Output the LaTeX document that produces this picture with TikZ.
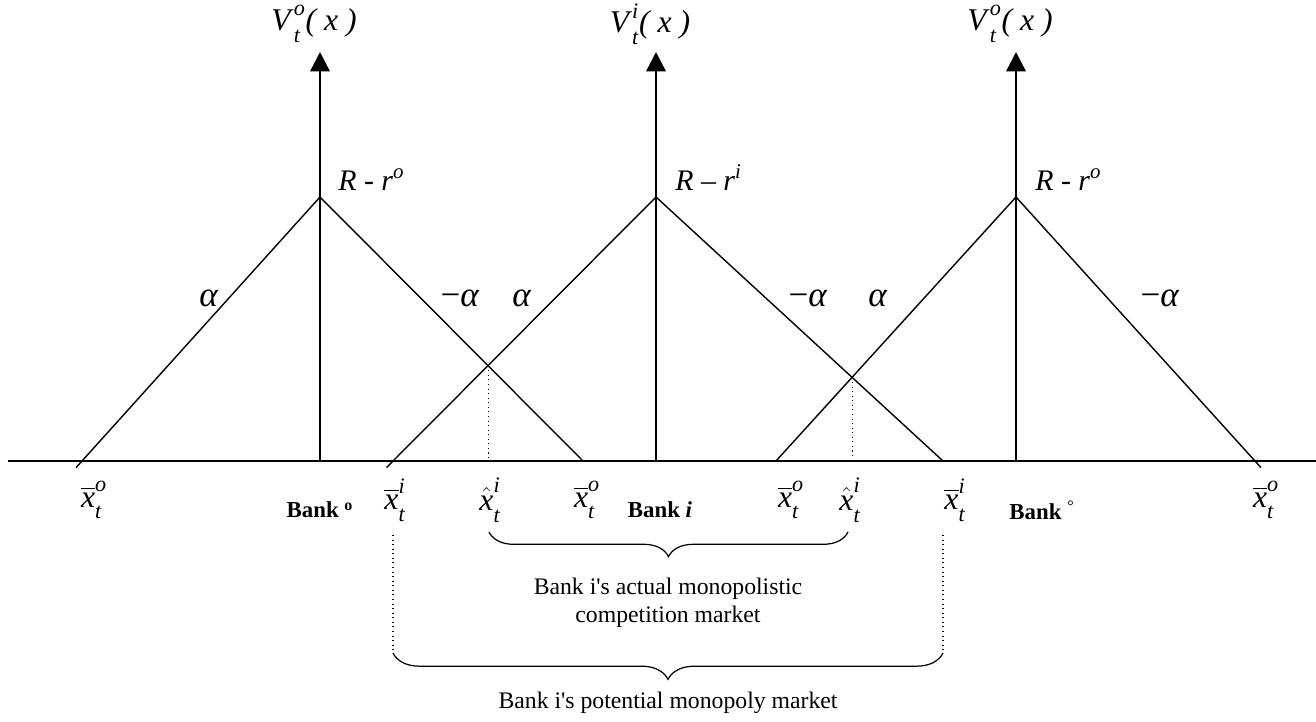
\documentclass[tikz,border=0pt]{standalone}
\usepackage{amsmath}
\usepackage[no-math]{fontspec}
\setmainfont{Liberation Serif}
\usetikzlibrary{arrows.meta, calc, decorations.pathreplacing}
\newcommand{\scr}[2]{^{\text{\raisebox{0.15em}{\itshape #2}}}_{\text{\raisebox{-0.2em}{\itshape #1}}}}
\newcommand{\xbar}[1]{$\overline{\textit{x}}\scr{t}{#1}$}
\newcommand{\xhat}[1]{$\hat{\textit{x}}\scr{t}{#1}$}
\newcommand{\vlab}[1]{\textit{V}$\scr{t}{#1}$\textit{( x )}}
\tikzset{
  lne/.style={line width=0.8pt},
  axisln/.style={line width=1pt},
  vax/.style={line width=1.4pt, -{Triangle[length=11pt, width=11pt]}},
  drop/.style={dotted, line width=0.6pt},
  brc/.style={decorate, decoration={brace, mirror, amplitude=14pt}, line width=0.7pt},
  vlb/.style={font=\fontsize{18}{20}\selectfont, inner sep=0pt},
  plb/.style={font=\fontsize{17}{20}\selectfont, inner sep=0pt, anchor=base west},
  alb/.style={font=\fontsize{20}{22}\selectfont, inner sep=0pt, anchor=base},
  xlb/.style={font=\fontsize{18}{20}\selectfont, inner sep=0pt},
  blb/.style={font=\fontsize{13}{15}\selectfont\bfseries, inner sep=0pt},
  txt/.style={font=\fontsize{13.5}{16}\selectfont, align=center, inner sep=0pt},
}
\begin{document}
\begin{tikzpicture}[x=0.02cm, y=-0.02cm]
  \useasboundingbox (0,0) rectangle (1316,721);
  % axis, peaks and feet
  \coordinate (axL) at (8,461);
  \coordinate (axR) at (1316,461);
  \coordinate (pkA) at (320,197);
  \coordinate (pkB) at (656,197);
  \coordinate (pkC) at (1016,197);
  \coordinate (fA1) at (82,461);
  \coordinate (fA2) at (583,461);
  \coordinate (fB1) at (393,461);
  \coordinate (fB2) at (943,461);
  \coordinate (fC1) at (776,461);
  \coordinate (fC2) at (1255,461);
  \draw[axisln] (axL) -- (axR);
  \foreach \b/\xx in {A/320, B/656, C/1016} {
    \coordinate (base\b) at (\xx,461);
    \coordinate (top\b) at (\xx,52);
    \draw[vax] (base\b) -- (top\b);
  }
  % value functions
  \draw[lne] ($(pkA)!1.025!(fA1)$) -- (pkA) -- (fA2);
  \draw[lne] ($(pkB)!1.025!(fB1)$) -- (pkB) -- (fB2);
  \draw[lne] (fC1) -- (pkC) -- ($(pkC)!1.025!(fC2)$);
  \coordinate (hx1) at (intersection of pkA--fA2 and fB1--pkB);
  \coordinate (hx2) at (intersection of pkB--fB2 and fC1--pkC);
  \draw[drop] (hx1) -- (hx1 |- axL);
  \draw[drop] (hx2) -- (hx2 |- axL);
  % axis titles
  \node[vlb] (vA) at (314,24) {\vlab{o}};
  \node[vlb] (vB) at (650,24) {\vlab{i}};
  \node[vlb] (vC) at (1010,24) {\vlab{o}};
  \node[plb] (rA) at (338,190) {\textit{R} - \textit{r}\textsuperscript{\textit{o}}};
  \node[plb] (rB) at (675,190) {\textit{R} – \textit{r}\textsuperscript{\textit{i}}};
  \node[plb] (rC) at (1035,190) {\textit{R} - \textit{r}\textsuperscript{\textit{o}}};
  % slopes
  \node[alb] (aA1) at (209,306) {\textit{α}};
  \node[alb] (aA2) at (460,306) {−\textit{α}};
  \node[alb] (aB1) at (522,306) {\textit{α}};
  \node[alb] (aB2) at (808,306) {−\textit{α}};
  \node[alb] (aC1) at (878,306) {\textit{α}};
  \node[alb] (aC2) at (1160,306) {−\textit{α}};
  % axis labels
  \node[xlb] (xA1) at (94,500) {\xbar{o}};
  \node[xlb] (xB1) at (395,500) {\xbar{i}};
  \node[xlb] (hB1) at (490,500) {\xhat{i}};
  \node[xlb] (xA2) at (587,500) {\xbar{o}};
  \node[xlb] (xC1) at (791,500) {\xbar{o}};
  \node[xlb] (hB2) at (850,500) {\xhat{i}};
  \node[xlb] (xB2) at (955,500) {\xbar{i}};
  \node[xlb] (xC2) at (1266,500) {\xbar{o}};
  \node[blb] (bkA) at (320,510) {Bank \textsuperscript{o}};
  \node[blb] (bkB) at (660,510) {Bank \textit{i}};
  \node[blb] (bkC) at (1042,510) {Bank \textsuperscript{\mdseries °}};
  % markets
  \coordinate (sL) at (489,532);
  \coordinate (sR) at (848,532);
  \coordinate (gLt) at (393,535);
  \coordinate (gRt) at (943,535);
  \coordinate (gL) at (393,653);
  \coordinate (gR) at (943,653);
  \draw[brc] (sL) -- (sR);
  \draw[drop] (gLt) -- (gL);
  \draw[drop] (gRt) -- (gR);
  \draw[brc, decoration={amplitude=15pt}] (gL) -- (gR);
  \node[txt] (actual) at (668,603) {Bank i\textquotesingle s actual monopolistic\\competition market};
  \node[txt] (potential) at (668,703) {Bank i\textquotesingle s potential monopoly market};
\end{tikzpicture}
\end{document}
